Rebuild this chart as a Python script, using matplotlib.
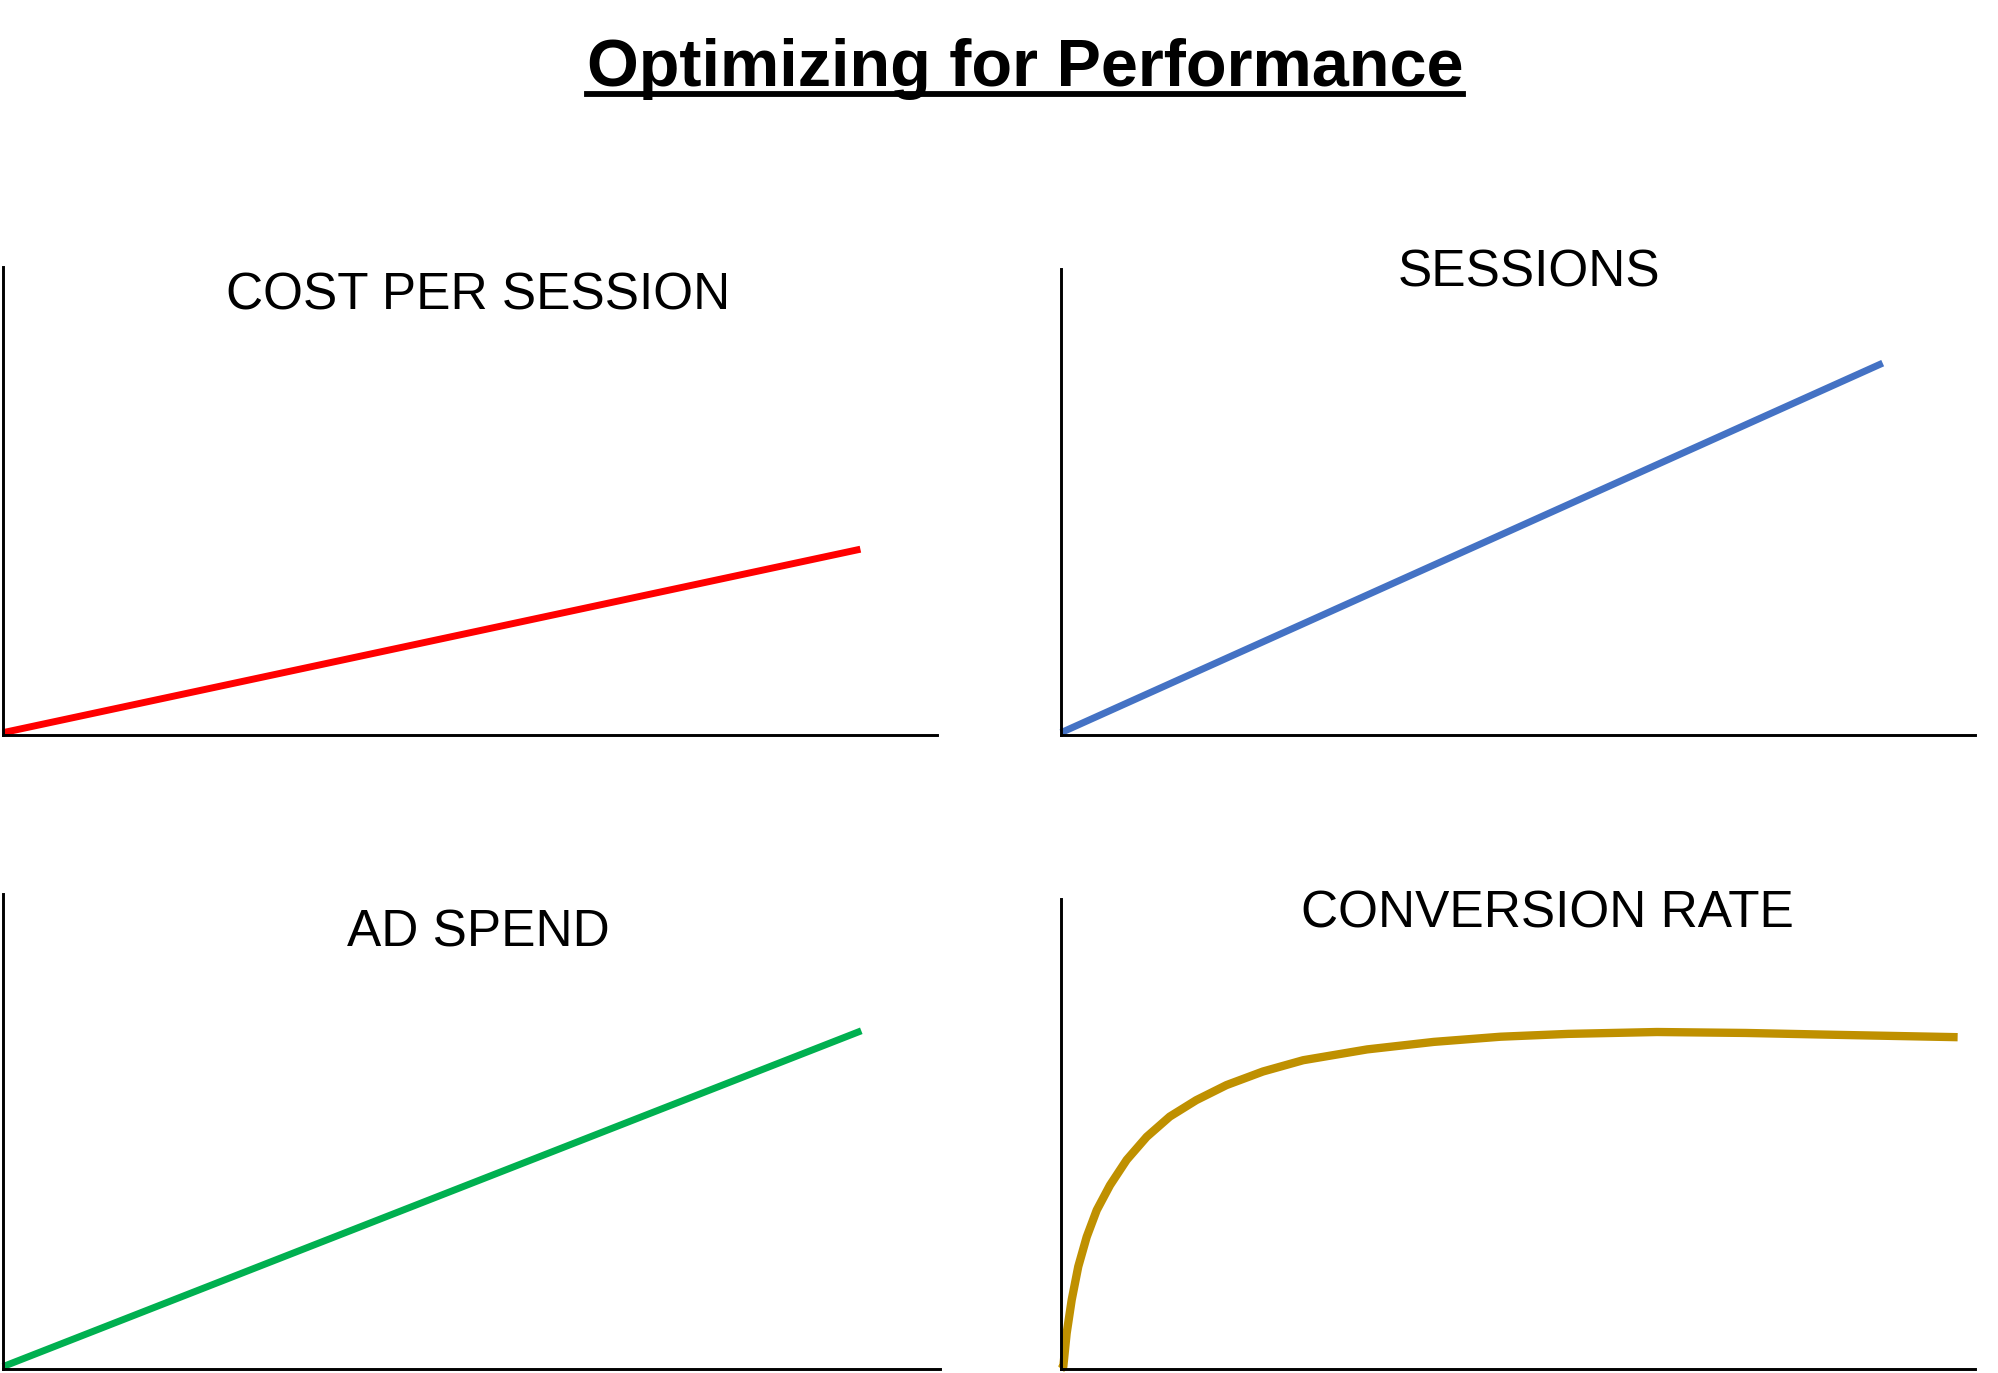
import matplotlib
matplotlib.use("Agg")
import matplotlib.pyplot as plt
from matplotlib.lines import Line2D

plt.rcParams['font.family'] = ['Liberation Sans', 'DejaVu Sans']

W, H = 1999, 1373

main_title = "Optimizing for Performance"
panel_titles = ["COST PER SESSION", "SESSIONS", "AD SPEND", "CONVERSION RATE"]
colors = ["#FF0000", "#4472C4", "#00B050", "#BF9000"]

# series values (axes scaled 0..100)
cps_x = [0, 91.8]
cps_y = [0.5, 39.7]
sessions_x = [0, 89.9]
sessions_y = [0.5, 79.8]
spend_x = [0, 91.6]
spend_y = [0.5, 71.2]
conv_x = [0, 0.25, 0.62, 1.17, 1.89, 2.81, 3.91, 5.36, 7.19, 9.38, 11.9, 14.8, 18.1,
          22.1, 26.5, 33.5, 40.8, 48.1, 55.5, 65.2, 74.9, 84.8, 98.1]
conv_y = [0.0, 0.5, 7.6, 14.7, 21.8, 28.1, 33.8, 39.1, 44.5, 49.4, 53.7, 57.2, 60.4,
          63.3, 65.7, 68.0, 69.6, 70.7, 71.3, 71.7, 71.5, 71.1, 70.6]

series = [(cps_x, cps_y), (sessions_x, sessions_y), (spend_x, spend_y), (conv_x, conv_y)]

# axes boxes in pixels: left, right, top, bottom
boxes = [(3, 937, 267, 735), (1061, 1975, 269, 735), (3, 940, 894, 1369), (1061, 1975, 899, 1369)]
# title centers in pixels
title_pos = [(478, 296), (1529, 273), (478, 933), (1547, 914)]

fig = plt.figure(figsize=(W / 100, H / 100), dpi=100)

for i in range(4):
    l, r, t, b = boxes[i]
    ax = fig.add_axes([l / W, 1 - b / H, (r - l) / W, (b - t) / H])
    ax.set_xlim(0, 100)
    ax.set_ylim(0, 100)
    x, y = series[i]
    lw = 6.0 if i == 3 else 5.0
    ax.plot(x, y, color=colors[i], linewidth=lw, solid_capstyle='butt',
            solid_joinstyle='round', clip_on=False)
    for s in ['top', 'right']:
        ax.spines[s].set_visible(False)
    for s in ['left', 'bottom']:
        ax.spines[s].set_linewidth(2.1)
        ax.spines[s].set_color('black')
    ax.set_xticks([])
    ax.set_yticks([])
    ax.patch.set_alpha(0)
    tx, ty = title_pos[i]
    fig.text(tx / W, 1 - ty / H, panel_titles[i], ha='center', va='center', fontsize=37, color='black')

t = fig.text(1025 / W, 1 - 86 / H, main_title, ha='center', va='baseline',
             fontsize=48, fontweight='bold', color='black')
fig.canvas.draw()
bb = t.get_window_extent().transformed(fig.transFigure.inverted())
fig.add_artist(Line2D([bb.x0, bb.x1], [1 - 94 / H, 1 - 94 / H], color='black', linewidth=4.2,
                      transform=fig.transFigure))

fig.savefig("out.png", dpi=100)
